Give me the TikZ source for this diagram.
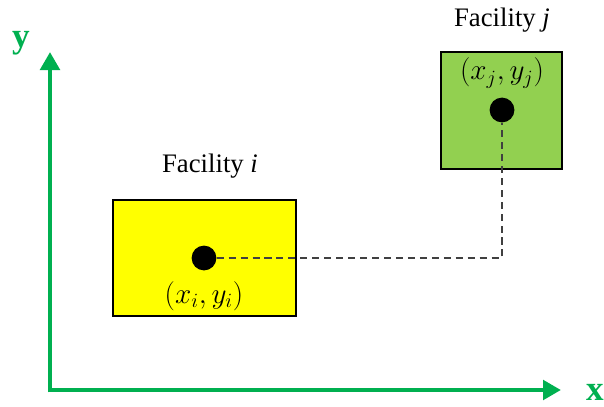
\documentclass[tikz,border=0pt]{standalone}
\usepackage{amsmath}
\usepackage{fontspec}
\setmainfont{Liberation Serif}
\usepackage{xcolor}
\usetikzlibrary{arrows.meta}
\definecolor{axisgreen}{HTML}{00B050}
\definecolor{facgreen}{HTML}{92D050}
\definecolor{facyellow}{HTML}{FFFF00}
\tikzset{
    facility/.style={draw=black, line width=1.4pt, inner sep=0pt},
    site/.style={circle, fill=black, minimum size=0.62cm, inner sep=0pt},
    axis/.style={axisgreen, line width=3.4pt, -{Triangle[length=0.45cm, width=0.48cm]}},
    axislabel/.style={axisgreen, font=\fontsize{25}{27}\selectfont\bfseries},
    lbl/.style={font=\fontsize{19}{22}\selectfont},
    coord/.style={font=\fontsize{21}{24}\selectfont}
}

\begin{document}
\begin{tikzpicture}[x=0.025cm, y=-0.025cm]
    \useasboundingbox (0,0) rectangle (604,407);

    % Axes
    \coordinate (origin) at (50,390);
    \coordinate (xend) at (561,390);
    \coordinate (yend) at (50,52);
    \draw[axis] (origin) -- (xend);
    \draw[axis] ([yshift=-1.7pt]origin) -- (yend);
    \node[axislabel] (ylabel) at (21,43) {y};
    \node[axislabel] (xlabel) at (595,392) {x};

    % Facilities
    \node[facility, fill=facyellow, minimum width=4.58cm, minimum height=2.9cm] (facI) at (204.5,258) {};
    \node[facility, fill=facgreen, minimum width=3.02cm, minimum height=2.92cm] (facJ) at (501.5,110.5) {};
    \node[lbl] (nameI) at (210,166) {Facility \textit{i}};
    \node[lbl] (nameJ) at (502,20) {Facility \textit{j}};

    % Locations
    \node[site] (dotI) at (204,258) {};
    \node[site] (dotJ) at (502,110) {};
    \node[coord] (posI) at (204,296) {$(x_i,y_i)$};
    \node[coord] (posJ) at (502,73) {$(x_j,y_j)$};

    % Rectilinear distance
    \draw[dashed, black!75, line width=1.2pt, dash pattern=on 5pt off 3.5pt] (dotI) -| (dotJ);
\end{tikzpicture}
\end{document}
